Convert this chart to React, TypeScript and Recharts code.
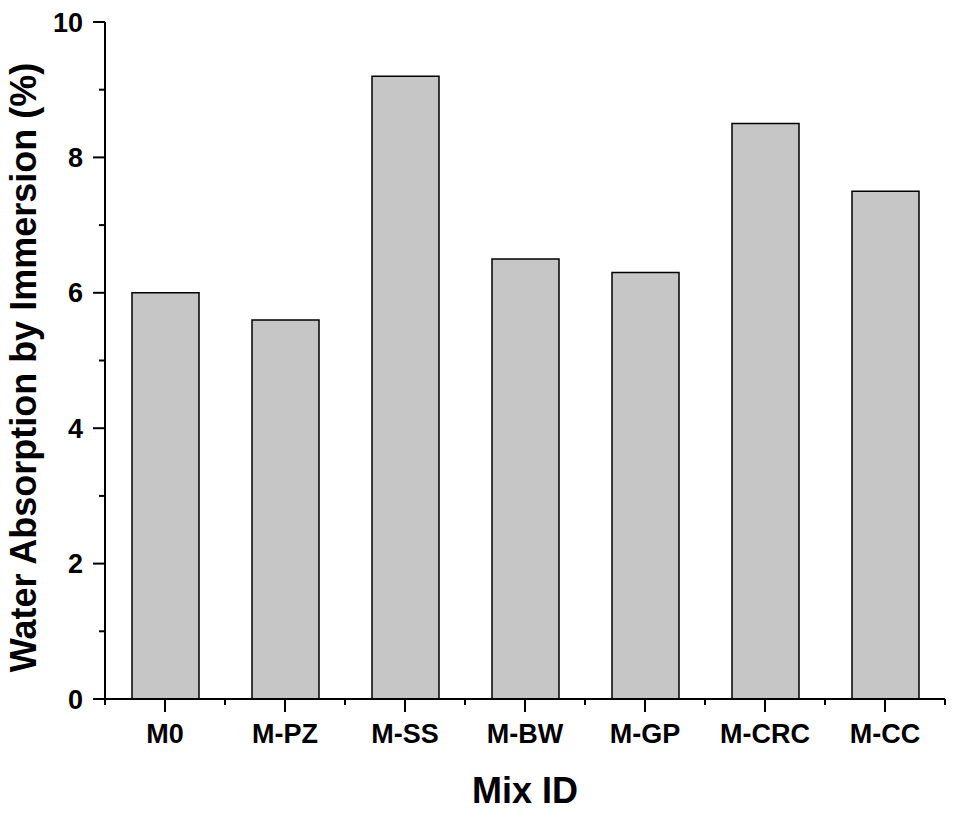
import React from 'react';
import { BarChart, Bar, XAxis, YAxis, Label } from 'recharts';

const categories = ['M0', 'M-PZ', 'M-SS', 'M-BW', 'M-GP', 'M-CRC', 'M-CC'];
const absorption = [6.0, 5.6, 9.2, 6.5, 6.3, 8.5, 7.5];
const yTicks = [0, 1, 2, 3, 4, 5, 6, 7, 8, 9, 10];
const yMajorTicks = [0, 2, 4, 6, 8, 10];

const data = categories.map((c, i) => ({ mix: c, value: absorption[i] }));

const W = 957;
const H = 813;
const MARGIN = { top: 22, right: 12, bottom: 0, left: 0 };
const Y_AXIS_W = 105;
const X_AXIS_H = 114;
const PLOT_W = W - MARGIN.left - MARGIN.right - Y_AXIS_W;
const FONT = '"Liberation Sans", Arial, Helvetica, sans-serif';

const Y_TICK_SIZE = 12;
const Y_TICK_MARGIN = 10;
const X_TICK_SIZE = 13;
const X_TICK_MARGIN = 12;

const YTick = (props: any) => {
  const { x, y, payload } = props;
  const v = payload.value;
  const axisX = x + Y_TICK_SIZE + Y_TICK_MARGIN;
  const major = yMajorTicks.includes(v);
  return (
    <g>
      <line x1={axisX - (major ? 12 : 6)} x2={axisX} y1={y} y2={y} stroke="#000" strokeWidth={2} />
      {major && (
        <text x={x} y={y} dy="0.355em" textAnchor="end" fontFamily={FONT} fontWeight="bold" fontSize={27} fill="#000">
          {v}
        </text>
      )}
    </g>
  );
};

const XTick = (props: any) => {
  const { x, y, payload, index } = props;
  const axisY = y - X_TICK_SIZE - X_TICK_MARGIN;
  const band = PLOT_W / categories.length;
  const isLast = index === categories.length - 1;
  return (
    <g>
      <line x1={x} x2={x} y1={axisY} y2={axisY + 13} stroke="#000" strokeWidth={2} />
      <line x1={x - band / 2} x2={x - band / 2} y1={axisY} y2={axisY + 6} stroke="#000" strokeWidth={2} />
      {isLast && (
        <line x1={x + band / 2} x2={x + band / 2} y1={axisY} y2={axisY + 6} stroke="#000" strokeWidth={2} />
      )}
      <text x={x} y={y} dy="0.71em" textAnchor="middle" fontFamily={FONT} fontWeight="bold" fontSize={27} fill="#000">
        {payload.value}
      </text>
    </g>
  );
};

const YTitle = (props: any) => {
  const vb = props.viewBox || {};
  const cy = vb.y + vb.height / 2 + 7;
  const cx = 36;
  return (
    <text
      x={cx}
      y={cy}
      transform={`rotate(-90, ${cx}, ${cy})`}
      textAnchor="middle"
      fontFamily={FONT}
      fontWeight="bold"
      fontSize={36}
      fill="#000"
    >
      Water Absorption by Immersion (%)
    </text>
  );
};

const XTitle = (props: any) => {
  const vb = props.viewBox || {};
  const cx = vb.x + vb.width / 2;
  const by = vb.y + vb.height - 10;
  return (
    <text x={cx} y={by} textAnchor="middle" fontFamily={FONT} fontWeight="bold" fontSize={36} fill="#000">
      Mix ID
    </text>
  );
};

export default function App() {
  return (
    <div style={{ position: 'absolute', left: 0, top: 0, width: W, height: H, background: '#fff' }}>
      <BarChart width={W} height={H} data={data} margin={MARGIN}>
        <XAxis
          dataKey="mix"
          height={X_AXIS_H}
          tickSize={X_TICK_SIZE}
          tickMargin={X_TICK_MARGIN}
          tickLine={{ stroke: 'none' }}
          axisLine={{ stroke: '#000', strokeWidth: 2 }}
          tick={<XTick />}
          interval={0}
        >
          <Label content={<XTitle />} />
        </XAxis>
        <YAxis
          width={Y_AXIS_W}
          domain={[0, 10]}
          ticks={yTicks}
          interval={0}
          tickSize={Y_TICK_SIZE}
          tickMargin={Y_TICK_MARGIN}
          tickLine={{ stroke: 'none' }}
          axisLine={{ stroke: '#000', strokeWidth: 2 }}
          tick={<YTick />}
          allowDataOverflow
        >
          <Label content={<YTitle />} />
        </YAxis>
        <Bar dataKey="value" fill="#c6c6c6" stroke="#000" strokeWidth={1.5} barSize={67} isAnimationActive={false} />
      </BarChart>
    </div>
  );
}
